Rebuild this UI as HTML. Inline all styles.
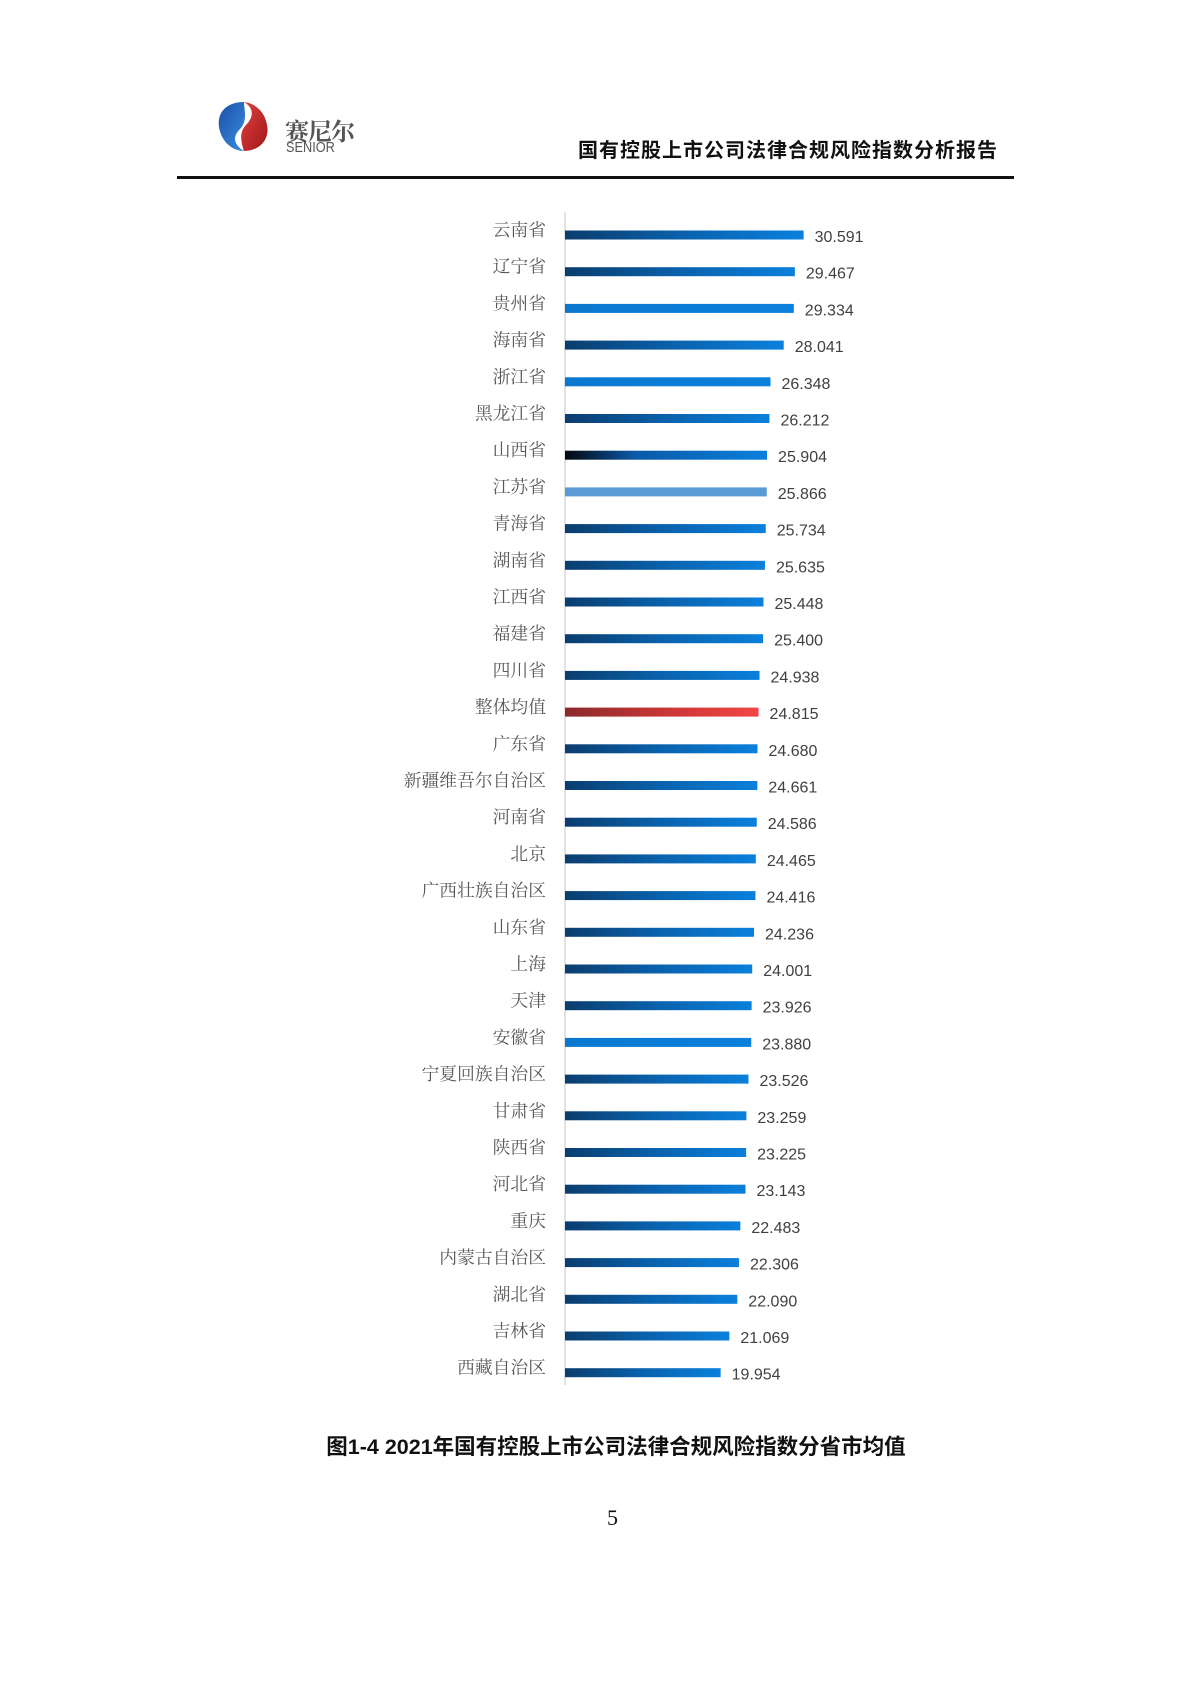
<!DOCTYPE html>
<html><head><meta charset="utf-8"><style>
body{margin:0;background:#fff;}
#page{position:relative;width:1190px;height:1683px;background:#fff;overflow:hidden;font-family:"Liberation Sans","Noto Sans CJK SC",sans-serif;}
.abs{position:absolute;}
</style></head><body>
<div id="page">
  <svg class="abs" style="left:214px;top:99px" width="58" height="56" viewBox="0 0 58 56">
    <defs><linearGradient id="lb" x1="0" y1="0" x2="1" y2="1"><stop offset="0" stop-color="#1a4fa8"/><stop offset="1" stop-color="#3b8ee0"/></linearGradient>
    <linearGradient id="lr" x1="0" y1="0" x2="1" y2="1"><stop offset="0" stop-color="#e04040"/><stop offset="1" stop-color="#a01818"/></linearGradient></defs>
    <path d="M30 3 C12 3 3 14 5 28 C7 42 18 52 30 52 C20 46 18 38 26 30 C34 22 30 10 30 3Z" fill="url(#lb)"/>
    <path d="M30 52 C46 52 56 40 53 26 C51 12 40 4 30 3 C40 9 40 18 32 26 C24 34 28 46 30 52Z" fill="url(#lr)"/>
  </svg>
  <div class="abs" style="left:285px;top:112px;font:bold 24px 'Noto Serif CJK SC',serif;color:#555;letter-spacing:-1px">赛尼尔</div>
  <div class="abs" style="left:286px;top:139px;font:15px 'Liberation Sans',sans-serif;color:#555;transform:scaleX(0.85);transform-origin:left">SENIOR</div>
  <div class="abs" style="right:192px;top:134px;font:bold 20px 'Noto Sans CJK SC',sans-serif;color:#111;letter-spacing:1px">国有控股上市公司法律合规风险指数分析报告</div>
  <div class="abs" style="left:177px;top:176px;width:837px;height:3px;background:#111"></div>

  <svg class="abs" style="left:0;top:0" width="1190" height="1683" id="chart">
    <defs>
      <linearGradient id="gBlue" x1="0" x2="1"><stop offset="0" stop-color="#0b3d6e"/><stop offset="0.5" stop-color="#0a62ad"/><stop offset="1" stop-color="#0a80dc"/></linearGradient>
      <linearGradient id="gSolid" x1="0" x2="1"><stop offset="0" stop-color="#0b78cf"/><stop offset="1" stop-color="#0b80dc"/></linearGradient>
      <linearGradient id="gBlack" x1="0" x2="1"><stop offset="0" stop-color="#05070f"/><stop offset="0.35" stop-color="#0a5aa8"/><stop offset="1" stop-color="#0a80dc"/></linearGradient>
      <linearGradient id="gLight" x1="0" x2="1"><stop offset="0" stop-color="#5b9bd5"/><stop offset="1" stop-color="#5b9bd5"/></linearGradient>
      <linearGradient id="gRed" x1="0" x2="1"><stop offset="0" stop-color="#8a2a2a"/><stop offset="0.5" stop-color="#c83535"/><stop offset="1" stop-color="#f24545"/></linearGradient>
    </defs>
    <line x1="565" y1="212" x2="565" y2="1385" stroke="#d9d9d9" stroke-width="1.5"/>
  </svg>

  <div class="abs" style="left:0;width:1232px;text-align:center;top:1430px;font:bold 21.5px 'Liberation Sans','Noto Sans CJK SC',sans-serif;color:#111">图1-4 2021年国有控股上市公司法律合规风险指数分省市均值</div>
  <div class="abs" style="left:607px;top:1505px;font:22px 'Liberation Serif',serif;color:#111">5</div>
</div>
<script>
const categories=["云南省","辽宁省","贵州省","海南省","浙江省","黑龙江省","山西省","江苏省","青海省","湖南省","江西省","福建省","四川省","整体均值","广东省","新疆维吾尔自治区","河南省","北京","广西壮族自治区","山东省","上海","天津","安徽省","宁夏回族自治区","甘肃省","陕西省","河北省","重庆","内蒙古自治区","湖北省","吉林省","西藏自治区"];
const values=[30.591,29.467,29.334,28.041,26.348,26.212,25.904,25.866,25.734,25.635,25.448,25.400,24.938,24.815,24.680,24.661,24.586,24.465,24.416,24.236,24.001,23.926,23.880,23.526,23.259,23.225,23.143,22.483,22.306,22.090,21.069,19.954];
const fills={"贵州省":"gSolid","浙江省":"gSolid","安徽省":"gSolid","山西省":"gBlack","江苏省":"gLight","整体均值":"gRed"};
const svg=document.getElementById('chart');
const NS='http://www.w3.org/2000/svg';
const x0=565, pxPerUnit=7.8, y0=235, step=36.7, barH=9;
const xScale=v=>v*pxPerUnit;
const yScale=i=>y0+i*step;
categories.forEach((c,i)=>{
  const y=yScale(i);
  const t=document.createElementNS(NS,'text');
  t.setAttribute('x',546);t.setAttribute('y',y+1);t.setAttribute('text-anchor','end');
  t.setAttribute('font-family','"Noto Serif CJK SC","Liberation Serif",serif');t.setAttribute('font-size','17.8');t.setAttribute('fill','#595959');
  t.textContent=c;
  
  
  svg.appendChild(t);
  const r=document.createElementNS(NS,'rect');
  const w=xScale(values[i]);
  r.setAttribute('x',x0);r.setAttribute('y',y-barH/2);r.setAttribute('width',w);r.setAttribute('height',barH);
  r.setAttribute('fill','url(#'+(fills[c]||'gBlue')+')');
  
  
  svg.appendChild(r);
  const v=document.createElementNS(NS,'text');
  v.setAttribute('x',x0+w+11);v.setAttribute('y',y+7);
  v.setAttribute('font-family','"Liberation Sans",sans-serif');v.setAttribute('font-size','16');v.setAttribute('fill','#404040');
  v.textContent=values[i].toFixed(3);
  
  
  svg.appendChild(v);
});
</script>
</body></html>
